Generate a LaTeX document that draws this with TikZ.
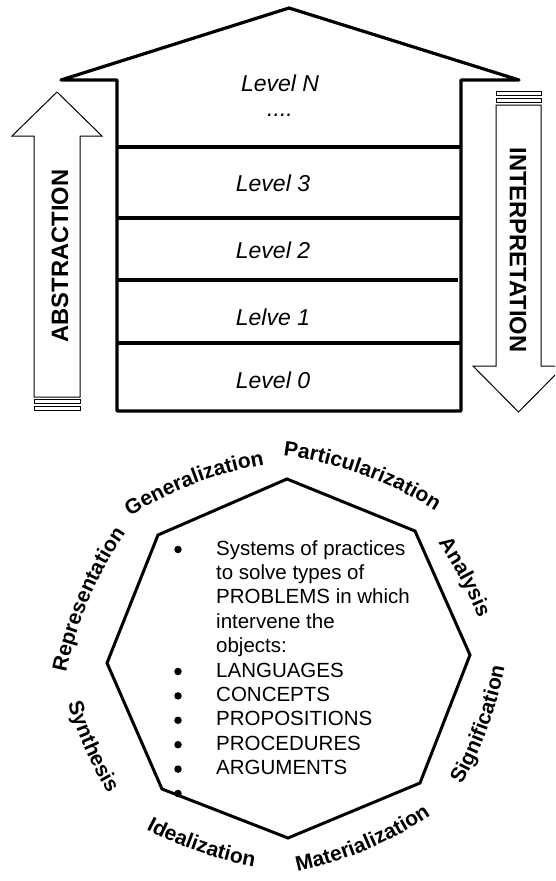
\documentclass[tikz,border=0pt]{standalone}
\usepackage{fontspec}
\setmainfont{Liberation Sans}
\usetikzlibrary{decorations.text}
\newcommand{\facetfont}{\fontsize{21}{25}\selectfont\bfseries}
% text on a gentle arc: #1 baseline centre, #2 reading angle, #3 radius, #4 text
% \cwfacet: letters facing away from the bend centre; \ccwfacet: facing it
\newcommand{\cwfacet}[4]{%
  \begin{scope}[shift={#1}, y=1pt, shift={({#2-90}:#3)}]
    \path[facet={#4}] ({#2+112}:#3) arc[start angle={#2+112}, end angle={#2+68}, radius=#3];
  \end{scope}}
\newcommand{\ccwfacet}[4]{%
  \begin{scope}[shift={#1}, y=1pt, shift={({#2+90}:#3)}]
    \path[facet={#4}] ({#2-112}:#3) arc[start angle={#2-112}, end angle={#2-68}, radius=#3];
  \end{scope}}
\begin{document}
\begin{tikzpicture}[x=1pt,y=-1pt,
  wall/.style={line width=3.2pt, line join=round},
  bigarrow/.style={draw, line width=1pt, fill=white},
  strip/.style={draw, line width=0.8pt, fill=white},
  level/.style={inner sep=0pt, font=\fontsize{23}{27}\selectfont\itshape},
  dirlabel/.style={inner sep=0pt, font=\fontsize{23.7}{28}\selectfont\bfseries},
  dot/.style={circle, fill=black, inner sep=0pt, minimum size=7.5pt},
  facet/.style={decorate, decoration={text along path, text align=center,
     text={|\facetfont|#1}}}]
\clip (0,0) rectangle (555,881);

% ---- house of levels ----
\draw[wall] (61,80) -- (289,8) -- (519,80) -- (461,80) -- (461,411)
  -- (117,411) -- (117,80) -- cycle;
\draw[wall] (117,147) -- (461,147);
\draw[wall] (117,218) -- (461,218);
\draw[wall] (117,280) -- (458,280);
\draw[wall] (117,343) -- (461,343);

\node[level] (lvN) at (280,83) {Level N};
\node[level] (dots) at (280,115) {....};
\node[level] (lv3) at (273,183) {Level 3};
\node[level] (lv2) at (273,250) {Level 2};
\node[level] (lv1) at (273,317) {Lelve 1};
\node[level] (lv0) at (273,380) {Level 0};

% ---- upward arrow ----
\draw[bigarrow] (34,397) -- (34,136) -- (12,136) -- (57,92) -- (102,136)
  -- (80,136) -- (80,397) -- cycle;
\draw[strip] (34,399) rectangle (80,403);
\draw[strip] (34,406.5) rectangle (80,410.5);
\node[dirlabel, rotate=90] (abs) at (60,256) {ABSTRACTION};

% ---- downward arrow ----
\draw[bigarrow] (496,105) -- (496,366) -- (473,366) -- (518.5,412) -- (564,366)
  -- (541,366) -- (541,105) -- cycle;
\draw[strip] (496,91.5) rectangle (541,95.5);
\draw[strip] (496,98) rectangle (541,102.5);
\node[dirlabel, rotate=-90] (int) at (518,250) {INTERPRETATION};

% ---- octagon of practices ----
\draw[line width=3pt] (287,479) -- (415,531) -- (470,655) -- (420,783)
  -- (288,838) -- (162,789) -- (107,663) -- (158,535) -- cycle;

\node[anchor=base west, inner sep=0pt,
      font=\fontsize{20.5}{24.4}\selectfont] (body) at (216,555)
  {\begin{tabular}[t]{@{}l@{}}
   Systems of practices\\
   to solve types of\\
   PROBLEMS in which\\
   intervene the\\
   objects:\\
   LANGUAGES\\
   CONCEPTS\\
   PROPOSITIONS\\
   PROCEDURES\\
   ARGUMENTS
   \end{tabular}};

\foreach \i in {0,5,6,7,8,9,10}
  \node[dot] (b\i) at (178,{549.5+24.4*\i}) {};

% ---- processes written round the octagon ----
\cwfacet{(194.7,484)}{21}{380}{Generalization}
\cwfacet{(362.4,475)}{-20}{380}{Particularization}
\cwfacet{(460.4,579.5)}{-62}{380}{Analysis}
\cwfacet{(88.9,599.9)}{67}{380}{Representation}
\ccwfacet{(488,727.6)}{70}{380}{Signification}
\ccwfacet{(366.9,849.9)}{23}{380}{Materialization}
\ccwfacet{(198.6,852.1)}{-19}{380}{Idealization}
\ccwfacet{(85.2,750)}{-66}{380}{Synthesis}
\end{tikzpicture}
\end{document}
